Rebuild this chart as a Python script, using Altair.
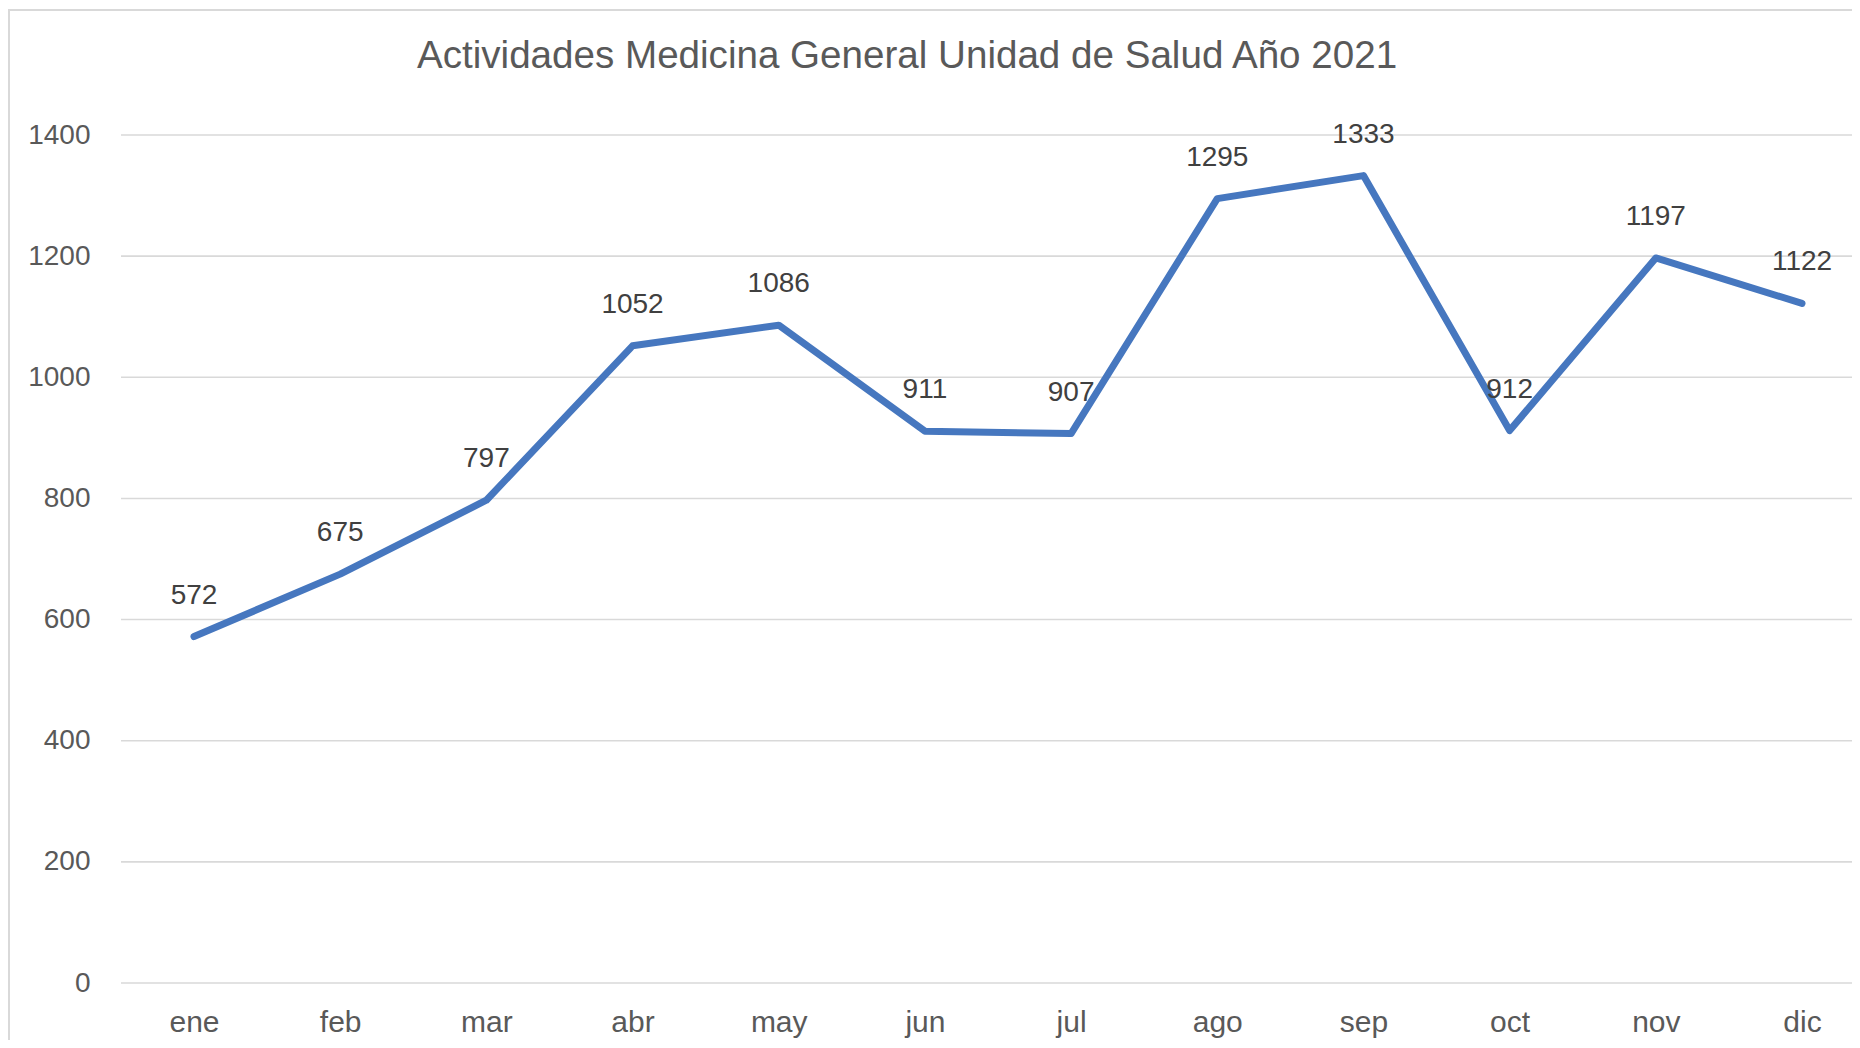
import altair as alt
import pandas as pd

months = ["ene", "feb", "mar", "abr", "may", "jun", "jul", "ago", "sep", "oct", "nov", "dic"]
values = [572, 675, 797, 1052, 1086, 911, 907, 1295, 1333, 912, 1197, 1122]
y_ticks = [0, 200, 400, 600, 800, 1000, 1200, 1400]
title_text = "Actividades Medicina General Unidad de Salud Año 2021"

df = pd.DataFrame({"mes": months, "valor": values})
grid_df = pd.DataFrame({"valor": y_ticks})

W = 1731
H = 848
FONT = "Liberation Sans"

y_scale = alt.Scale(domain=[0, 1400], nice=False, zero=True)
y_axis = alt.Axis(
    title=None, values=y_ticks, format="d", ticks=False, tickSize=0, domain=False,
    grid=False,
    labelFont=FONT, labelFontSize=28, labelColor="#595959", labelPadding=31,
)

x_enc = alt.X(
    "mes:N",
    sort=months,
    scale=alt.Scale(type="point", range=[73, 1681], padding=0),
    axis=alt.Axis(
        title=None, labelAngle=0, ticks=False, tickSize=0, domain=False, grid=False,
        labelFont=FONT, labelFontSize=30, labelColor="#595959",
        labelBaseline="alphabetic", labelPadding=48,
    ),
)

grid = alt.Chart(grid_df).mark_rule(color="#d9d9d9", strokeWidth=1.6).encode(
    y=alt.Y("valor:Q", scale=y_scale, axis=y_axis),
    x=alt.value(0),
    x2=alt.value(W),
)

base = alt.Chart(df)

line = base.mark_line(
    color="#4677BF", strokeWidth=7, strokeCap="round", strokeJoin="round"
).encode(x=x_enc, y=alt.Y("valor:Q", scale=y_scale, axis=y_axis))

labels = base.mark_text(
    font=FONT, fontSize=28, color="#404040", baseline="alphabetic", align="center", dy=-33
).encode(x=alt.X("mes:N", sort=months), y="valor:Q", text="valor:Q")

one = alt.Chart(alt.Data(values=[{"t": title_text}]))
frame_left = one.mark_rule(color="#d9d9d9", strokeWidth=2).encode(
    x=alt.value(-112), y=alt.value(-125), y2=alt.value(H + 80)
)
frame_top = one.mark_rule(color="#d9d9d9", strokeWidth=2).encode(
    x=alt.value(-113), x2=alt.value(W + 10), y=alt.value(-125)
)
title = one.mark_text(
    font=FONT, fontSize=38.6, color="#595959", align="left", baseline="alphabetic"
).encode(x=alt.value(296), y=alt.value(-67), text="t:N")

chart = alt.layer(grid, frame_left, frame_top, line, labels, title).properties(
    width=W,
    height=H,
    autosize=alt.AutoSizeParams(type="none"),
    padding={"left": 113, "top": 127, "right": 0, "bottom": 57},
    background="white",
).configure_view(stroke=None)

chart.save("out.html", embed_options={"renderer": "svg", "actions": False})
